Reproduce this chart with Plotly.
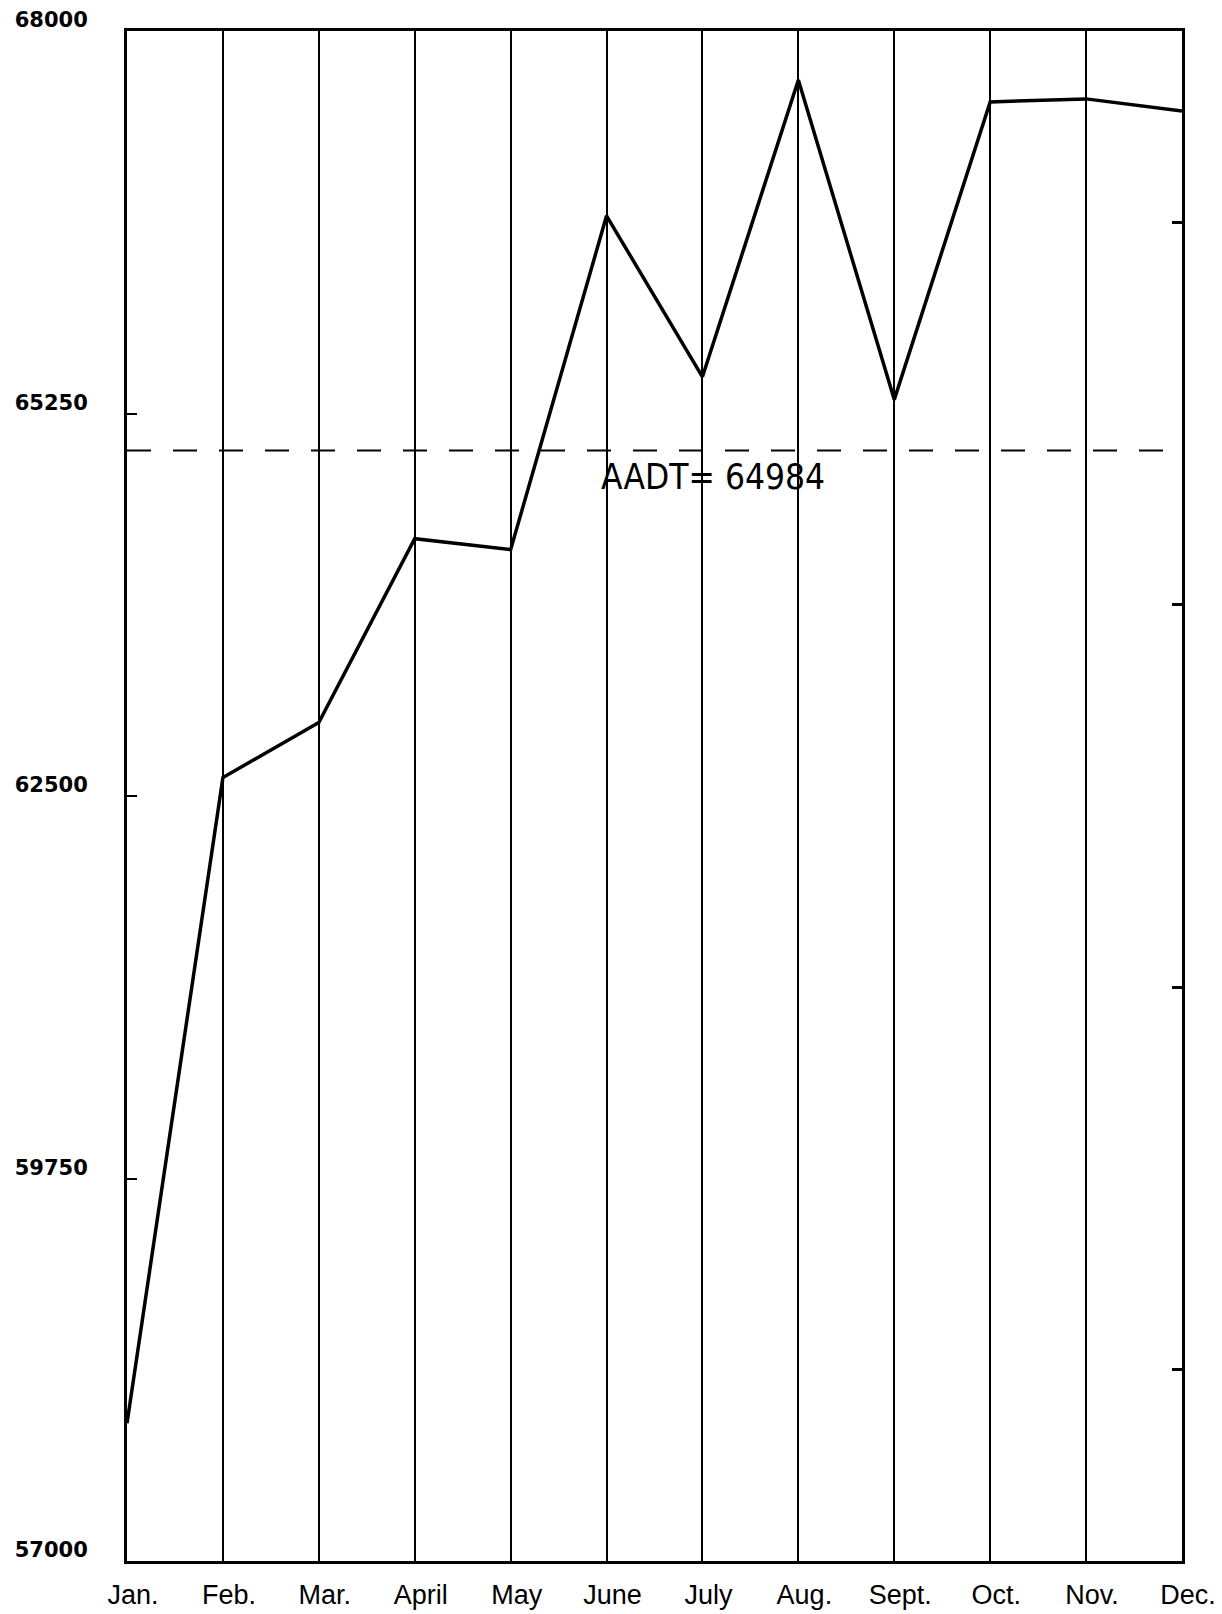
import plotly.graph_objects as go

months = ["Jan.", "Feb.", "Mar.", "April", "May", "June", "July", "Aug.", "Sept.", "Oct.", "Nov.", "Dec."]
traffic = [57990, 62633, 63028, 64350, 64271, 66671, 65514, 67648, 65350, 67490, 67512, 67425]
aadt = 64984
y_label_ticks = [57000, 59750, 62500, 65250, 68000]
y_minor_ticks = [58375, 61125, 63875, 66625]

x_idx = list(range(len(months)))

fig = go.Figure()

fig.add_trace(go.Scatter(
    x=[x_idx[0], x_idx[-1]], y=[aadt, aadt], mode="lines",
    line=dict(color="black", width=2, dash="24px,22px"),
    hoverinfo="skip", showlegend=False))

fig.add_trace(go.Scatter(
    x=x_idx, y=traffic, mode="lines",
    line=dict(color="black", width=3.5),
    showlegend=False))

# invisible trace to carry right-side axis
fig.add_trace(go.Scatter(
    x=x_idx, y=traffic, mode="lines", yaxis="y2",
    line=dict(color="rgba(0,0,0,0)", width=0),
    hoverinfo="skip", showlegend=False))

fig.add_annotation(
    x=x_idx[5], y=aadt, xref="x", yref="y",
    text=f"AADT= {aadt}", showarrow=False,
    xanchor="left", yanchor="middle", xshift=-8, yshift=-26,
    font=dict(family="Liberation Sans Narrow, DejaVu Sans Condensed, DejaVu Sans", size=35, color="black"))

fig.update_layout(
    width=1222, height=1614,
    margin=dict(l=127, r=40, t=31, b=53),
    paper_bgcolor="white", plot_bgcolor="white",
    xaxis=dict(
        range=[x_idx[0], x_idx[-1]],
        tickvals=x_idx, ticktext=months,
        showgrid=True, gridcolor="black", gridwidth=2,
        showline=True, linecolor="black", linewidth=3, mirror=True,
        ticks="", zeroline=False, automargin=False,
        tickfont=dict(family="Liberation Sans, Arial", size=27, color="black"),
        ticklabelstandoff=8, ticklabelshift=6,
    ),
    yaxis=dict(
        range=[57000, 68000],
        tickvals=y_label_ticks, ticktext=[str(v) for v in y_label_ticks],
        showgrid=False, zeroline=False, automargin=False,
        showline=True, linecolor="black", linewidth=3, mirror=True,
        ticks="inside", ticklen=10, tickwidth=2, tickcolor="black",
        tickfont=dict(family="DejaVu Sans", size=21, color="black", weight="bold"),
        ticklabelshift=-11, ticklabelstandoff=32,
    ),
    yaxis2=dict(
        range=[57000, 68000], overlaying="y", side="right",
        tickvals=y_minor_ticks, showticklabels=False, automargin=False,
        showgrid=False, zeroline=False, showline=False,
        ticks="inside", ticklen=10, tickwidth=3, tickcolor="black",
    ),
)

fig.write_html("out.html", config={"displayModeBar": False},
               post_script="document.body.style.margin='0';")
